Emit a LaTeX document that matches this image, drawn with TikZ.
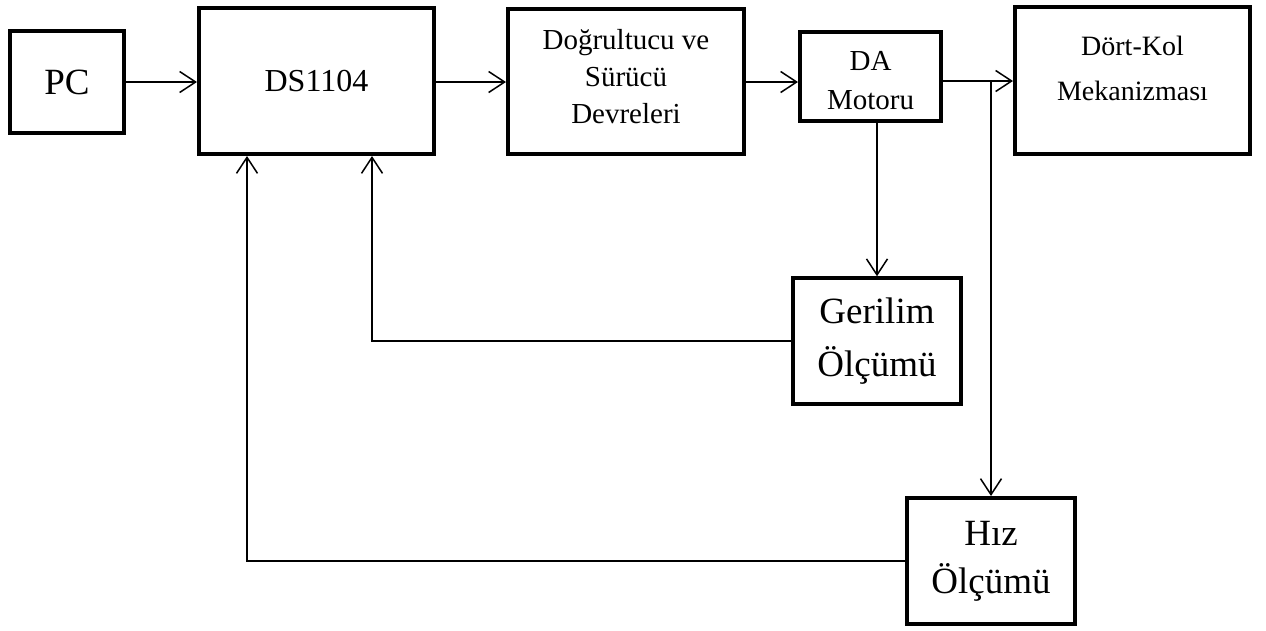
\documentclass[tikz,border=0pt]{standalone}
\usepackage{fontspec}
\setmainfont{Liberation Serif}
\usetikzlibrary{arrows.meta}
\begin{document}
\begin{tikzpicture}[x=1pt,y=-1pt,
  blk/.style={draw, line width=4pt, inner sep=0pt, align=center, fill=white},
  txt/.style={align=center, inner sep=0pt},
  arr/.style={line width=1.5pt, -{Straight Barb[length=16pt,width=21pt]}},
  ln/.style={line width=1.5pt}]
\fill[white] (0,0) rectangle (1266,630);
\useasboundingbox (0,0) rectangle (1266,630);
% blocks
\node[blk, font=\fontsize{37}{44}\selectfont, minimum width=114pt, minimum height=102pt] (pc) at (67,82) {PC};
\node[blk, font=\fontsize{32}{38}\selectfont, minimum width=235pt, minimum height=146pt] (ds) at (316.5,81) {\raisebox{-5pt}{DS1104}};
\node[blk, minimum width=236pt, minimum height=145pt,
  label={[txt, name=dogt, font=\fontsize{29}{37}\selectfont, yshift=4.5pt]center:Doğrultucu ve\\Sürücü\\Devreleri}] (dog) at (626,81.5) {};
\node[blk, minimum width=141pt, minimum height=89pt,
  label={[txt, name=dat, font=\fontsize{29}{39}\selectfont, yshift=-4pt]center:DA\\Motoru}] (da) at (870.5,76.5) {};
\node[blk, minimum width=235pt, minimum height=147pt,
  label={[txt, name=dkt, font=\fontsize{28}{45}\selectfont, yshift=12.5pt]center:Dört-Kol\\Mekanizması}] (dk) at (1132.5,80.5) {};
\node[blk, font=\fontsize{37}{53}\selectfont, minimum width=168pt, minimum height=125.5pt] (ger) at (877,341) {Gerilim\\Ölçümü};
\node[blk, font=\fontsize{37}{48}\selectfont, minimum width=168pt, minimum height=126pt] (hiz) at (991,561) {Hız\\Ölçümü};
% forward path
\draw[arr] (pc.east |- 0,82) -- (ds.west |- 0,82);
\draw[arr] (ds.east |- 0,82) -- (dog.west |- 0,82);
\draw[arr] (dog.east |- 0,82) -- (da.west |- 0,82);
\draw[arr] (da.east |- 0,81) -- (dk.west |- 0,81);
\coordinate (j) at (hiz.north |- 0,81);
\draw[arr] (j) -- (hiz.north);
\draw[arr] (ger.north |- da.south) -- (ger.north);
% feedback
\draw[arr] (ger.west) -| ([xshift=55.5pt]ds.south);
\draw[arr] (hiz.west) -| ([xshift=-69.5pt]ds.south);
\end{tikzpicture}
\end{document}
